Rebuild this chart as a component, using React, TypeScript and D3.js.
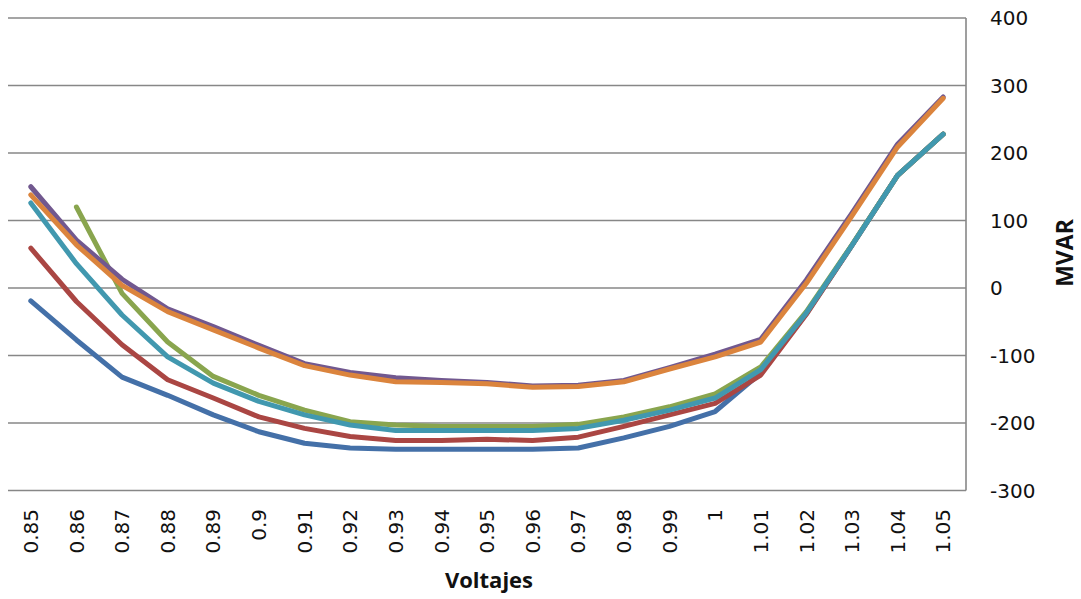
import React from "react";
import * as d3 from "d3";

const categories = ["0.85","0.86","0.87","0.88","0.89","0.9","0.91","0.92","0.93","0.94","0.95","0.96","0.97","0.98","0.99","1","1.01","1.02","1.03","1.04","1.05"];

const blueSeries: (number | null)[] = [-19, -77, -132, -159, -188, -213, -230, -237, -239, -239, -239, -239, -237, -222, -205, -183, -126, -38, 63, 167, 228];
const redSeries: (number | null)[] = [59, -20, -84, -136, -163, -191, -208, -220, -226, -226, -224, -226, -221, -205, -188, -171, -129, -39, 63, 167, 228];
const greenSeries: (number | null)[] = [null, 120, -8, -80, -131, -159, -181, -198, -203, -205, -205, -205, -202, -191, -176, -157, -117, -35, 64, 167, 228];
const purpleSeries: (number | null)[] = [150, 71, 13, -31, -57, -85, -112, -125, -133, -137, -140, -145, -144, -137, -118, -98, -76, 12, 111, 213, 283];
const tealSeries: (number | null)[] = [126, 36, -40, -102, -141, -168, -188, -203, -211, -211, -211, -211, -208, -196, -181, -163, -121, -37, 63, 167, 228];
const orangeSeries: (number | null)[] = [138, 64, 4, -35, -62, -89, -115, -129, -139, -140, -142, -147, -146, -139, -120, -102, -80, 7, 107, 209, 281];

const yTicks = [-300, -200, -100, 0, 100, 200, 300, 400];

const seriesList = [
  { name: "Serie1", values: blueSeries, color: "#4470A8" },
  { name: "Serie2", values: redSeries, color: "#AA4643" },
  { name: "Serie3", values: greenSeries, color: "#89A54E" },
  { name: "Serie4", values: purpleSeries, color: "#71588F" },
  { name: "Serie5", values: tealSeries, color: "#4198AF" },
  { name: "Serie6", values: orangeSeries, color: "#DB843D" },
];

export default function App() {
  const W = 1081, H = 599;
  const left = 8, right = 966, top = 18, bottom = 490.5;
  const x = d3.scaleBand<string>().domain(categories).range([left, right]).padding(0);
  const y = d3.scaleLinear().domain([-300, 400]).range([bottom, top]);
  const cx = (c: string) => (x(c) as number) + x.bandwidth() / 2;

  const line = d3
    .line<number | null>()
    .defined((d) => d !== null)
    .x((_, i) => cx(categories[i]))
    .y((d) => y(d as number));

  const tickFont = "'DejaVu Sans', sans-serif";
  const titleFont = "'Open Sans', 'DejaVu Sans', sans-serif";

  return (
    <svg width={W} height={H} style={{ position: "absolute", left: 0, top: 0, display: "block", background: "#fff" }}>
      {yTicks.map((t) => (
        <line key={"g" + t} x1={left} x2={right} y1={y(t)} y2={y(t)} stroke="#878787" strokeWidth={1.6} />
      ))}
      <line x1={right} x2={right} y1={top} y2={bottom} stroke="#878787" strokeWidth={1.6} />
      {seriesList.map((s) => (
        <path key={s.name} d={line(s.values) || ""} fill="none" stroke={s.color} strokeWidth={5} strokeLinejoin="round" strokeLinecap="round" />
      ))}
      {yTicks.map((t) => (
        <text key={"yt" + t} x={990} y={y(t)} dy="0.36em" fontFamily={tickFont} fontSize={20} fill="#111">
          {t}
        </text>
      ))}
      {categories.map((c) => (
        <text
          key={"xt" + c}
          transform={`translate(${cx(c)},${509}) rotate(-90)`}
          textAnchor="end"
          dy="0.36em"
          fontFamily={tickFont}
          fontSize={20}
          fill="#111"
        >
          {c}
        </text>
      ))}
      <text x={(left + right) / 2 + 2} y={588} textAnchor="middle" fontFamily={titleFont} fontWeight="bold" fontSize={22} fill="#111">
        Voltajes
      </text>
      <text transform={`translate(${1073},${253}) rotate(-90)`} textAnchor="middle" fontFamily={titleFont} fontWeight="bold" fontSize={23} fill="#111">
        MVAR
      </text>
    </svg>
  );
}
